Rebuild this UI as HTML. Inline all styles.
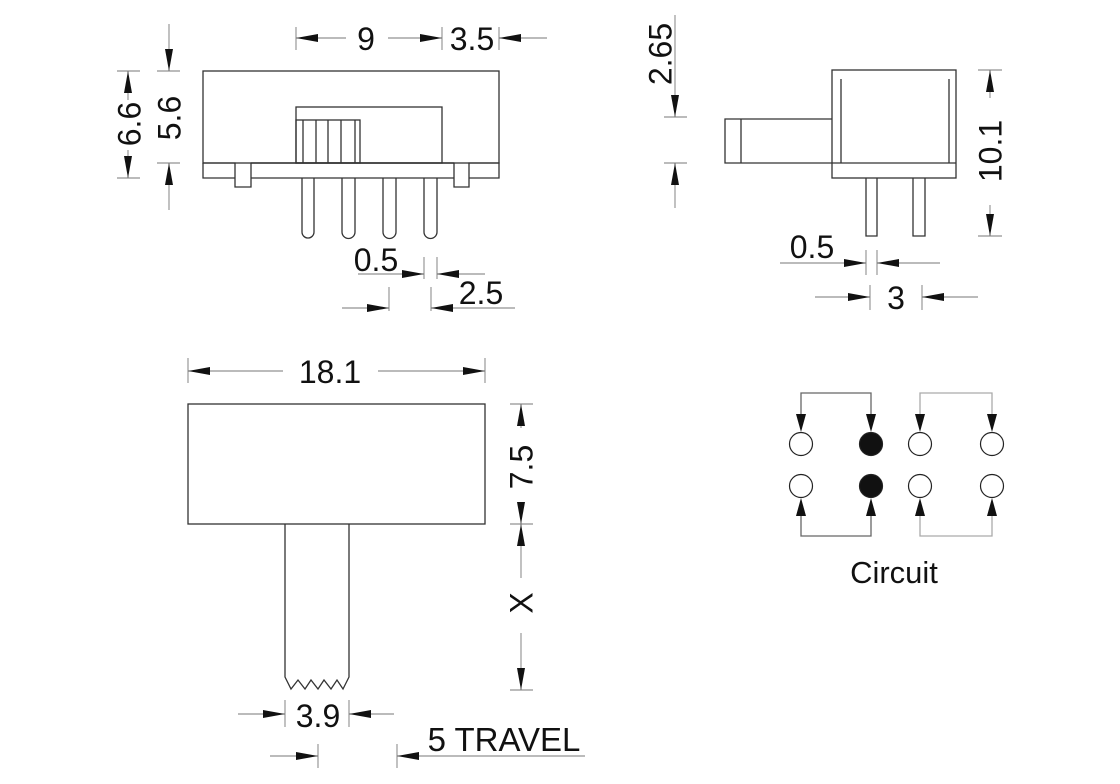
<!DOCTYPE html>
<html><head><meta charset="utf-8"><style>
html,body{margin:0;padding:0;background:#fff}
svg{display:block}
text{font-family:"Liberation Sans",Arial,sans-serif;fill:#111}
</style></head><body>
<svg width="1120" height="784" viewBox="0 0 1120 784" xmlns="http://www.w3.org/2000/svg">
<g fill="none" stroke="#333" stroke-width="1.3">
<rect x="203" y="71" width="296" height="92"/>
<path d="M203 163 H235 V187 H251 V178 H454 V187 H469 V163 H499 V178 H469 M454 178 V163 H251 V178 M235 178 H203 V163"/>
<path d="M251 163 H454"/>
<rect x="296" y="107" width="146" height="56"/>
<rect x="296" y="120" width="64" height="43"/>
<path d="M303 120V163M316 120V163M328 120V163M341 120V163M355 120V163"/>
<path d="M302 178V232a6 6 0 0 0 12 0V178M342 178V232a6.5 6.5 0 0 0 13 0V178M383 178V232a6.5 6.5 0 0 0 13 0V178M424 178V232a6.5 6.5 0 0 0 13 0V178"/>
<rect x="832" y="70" width="124" height="108"/>
<path d="M832 163H956M841 79V163M949 79V163"/>
<path d="M832 119H725V163H832M741 119V163"/>
<path d="M866 178V236H877V178M913 178V236H925V178"/>
<rect x="188" y="404" width="297" height="120"/>
<path d="M285 524V677L291 689L298 680L305 689L311 680L318 689L324 680L331 689L337 680L343 689L349 677V524"/>
</g>
<g fill="none" stroke="#777" stroke-width="0.9">
<path d="M296 27V50M442 27V50M499 27V50M296 38H346M388 38H442M499 38H547"/>
<path d="M117 71H140M117 178H140M128 71V100M128 150V178"/>
<path d="M157 71H180M157 163H180M169 24V71M169 163V210"/>
<path d="M424 257V279M437 257V279M358 274H424M437 274H485"/>
<path d="M389 287V311M431 287V311M342 308H389M431 308H515"/>
<path d="M664 117H687M664 163H687M675 15V117M675 163V208"/>
<path d="M978 70H1002M978 236H1002M990 70V98M990 205V236"/>
<path d="M866 250V275M877 250V275M780 263H866M877 263H940"/>
<path d="M870 285V310M922 285V310M815 297H870M922 297H978"/>
<path d="M188 358V383M485 358V383M188 371H283M378 371H485"/>
<path d="M510 404H533M510 524H533M510 690H533M521 404V428M521 505V545M521 544V578M521 633V690"/>
<path d="M285 700V727M349 700V727M238 714H285M349 714H394"/>
<path d="M318 744V768M397 744V768M270 756H318M397 756H585"/>
</g>
<g fill="#111">
<polygon points="296,38 318,34 318,42"/><polygon points="442,38 420,34 420,42"/><polygon points="499,38 521,34 521,42"/>
<polygon points="128,71 124,93 132,93"/><polygon points="128,178 124,156 132,156"/>
<polygon points="169,71 165,49 173,49"/><polygon points="169,163 165,185 173,185"/>
<polygon points="424,274 402,270 402,278"/><polygon points="437,274 459,270 459,278"/>
<polygon points="389,308 367,304 367,312"/><polygon points="431,308 453,304 453,312"/>
<polygon points="675,117 671,95 679,95"/><polygon points="675,163 671,185 679,185"/>
<polygon points="990,70 986,92 994,92"/><polygon points="990,236 986,214 994,214"/>
<polygon points="866,263 844,259 844,267"/><polygon points="877,263 899,259 899,267"/>
<polygon points="870,297 848,293 848,301"/><polygon points="922,297 944,293 944,301"/>
<polygon points="188,371 210,367 210,375"/><polygon points="485,371 463,367 463,375"/>
<polygon points="521,404 517,426 525,426"/><polygon points="521,524 517,502 525,502"/><polygon points="521,524 517,546 525,546"/><polygon points="521,690 517,668 525,668"/>
<polygon points="285,714 263,710 263,718"/><polygon points="349,714 371,710 371,718"/>
<polygon points="318,756 296,752 296,760"/><polygon points="397,756 419,752 419,760"/>
</g>
<g fill="none" stroke="#666" stroke-width="1.3">
<path d="M801 418V393H871V418M801 512V536H871V512"/>
</g>
<g fill="none" stroke="#aaa" stroke-width="1.3">
<path d="M920 418V393H992V418M920 512V536H992V512"/>
</g>
<g stroke="#222" stroke-width="1.2" fill="#fff">
<circle cx="801" cy="444" r="11.5"/><circle cx="920" cy="444" r="11.5"/><circle cx="992" cy="444" r="11.5"/>
<circle cx="801" cy="486" r="11.5"/><circle cx="920" cy="486" r="11.5"/><circle cx="992" cy="486" r="11.5"/>
<circle cx="871" cy="444" r="11.5" fill="#111"/><circle cx="871" cy="486" r="11.5" fill="#111"/>
</g>
<g fill="#111">
<polygon points="801,432 796,414 806,414"/><polygon points="871,432 866,414 876,414"/><polygon points="920,432 915,414 925,414"/><polygon points="992,432 987,414 997,414"/>
<polygon points="801,498 796,516 806,516"/><polygon points="871,498 866,516 876,516"/><polygon points="920,498 915,516 925,516"/><polygon points="992,498 987,516 997,516"/>
</g>
<g font-size="32" text-anchor="middle">
<text x="366" y="50">9</text>
<text x="472" y="50">3.5</text>
<text transform="translate(129,124) rotate(-90)" y="11.5">6.6</text>
<text transform="translate(169,118) rotate(-90)" y="11.5">5.6</text>
<text x="376" y="271">0.5</text>
<text x="481" y="304">2.5</text>
<text transform="translate(660,54) rotate(-90)" y="11.5">2.65</text>
<text transform="translate(990,151) rotate(-90)" y="11.5">10.1</text>
<text x="812" y="258">0.5</text>
<text x="896" y="309">3</text>
<text x="330" y="383">18.1</text>
<text transform="translate(521,467) rotate(-90)" y="11.5">7.5</text>
<text transform="translate(521,603) rotate(-90)" y="11.5">X</text>
<text x="318" y="727">3.9</text>
<text x="504" y="751" font-size="33">5 TRAVEL</text>
<text x="894" y="583" font-size="31">Circuit</text>
</g>
</svg>
</body></html>
